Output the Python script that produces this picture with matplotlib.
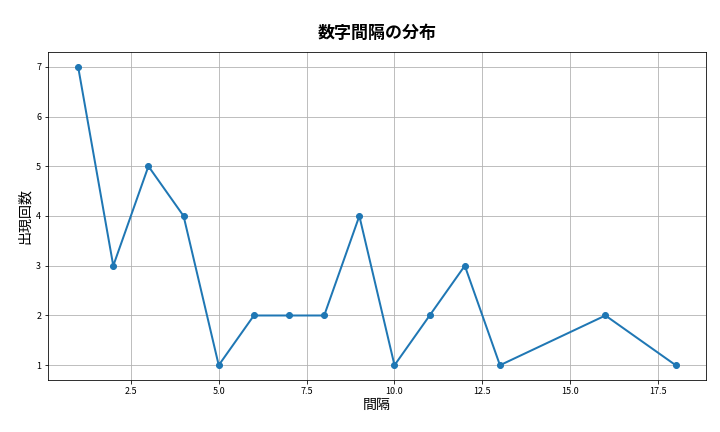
import matplotlib
matplotlib.use("Agg")
import matplotlib.pyplot as plt

plt.rcParams['font.family'] = ['Noto Sans CJK JP', 'DejaVu Sans']

gaps = [1, 2, 3, 4, 5, 6, 7, 8, 9, 10, 11, 12, 13, 16, 18]
counts = [7, 3, 5, 4, 1, 2, 2, 2, 4, 1, 2, 3, 1, 2, 1]

fig, ax = plt.subplots(figsize=(10, 6), dpi=72)
ax.plot(gaps, counts, marker='o', linewidth=2, color='#1f77b4')
ax.set_title('数字間隔の分布', fontsize=17, fontweight='bold', pad=14)
ax.set_xlabel('間隔', fontsize=14, labelpad=2)
ax.set_ylabel('出現回数', fontsize=14)
ax.grid(True, color='#b0b0b0')
ax.tick_params(labelsize=9)
fig.subplots_adjust(left=0.067, right=0.98, top=0.88, bottom=0.12)
fig.savefig('out.png')
